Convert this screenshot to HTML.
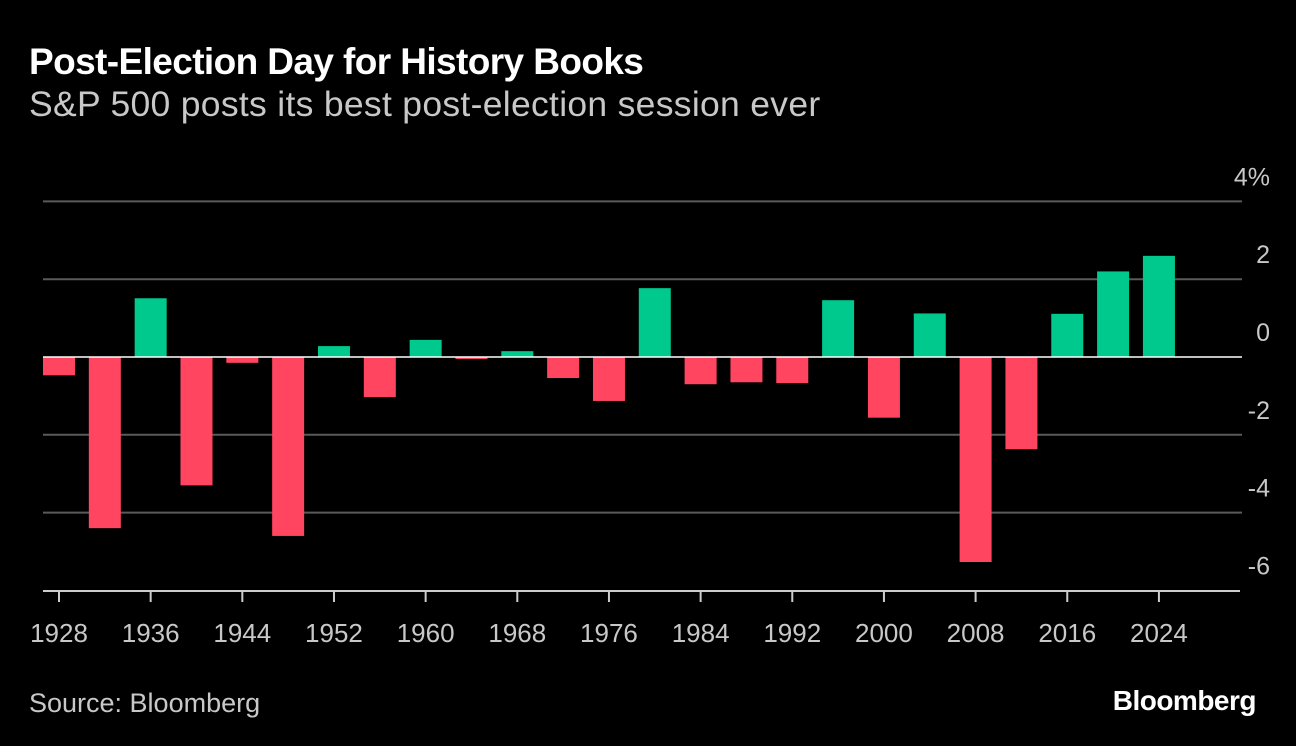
<!DOCTYPE html>
<html><head><meta charset="utf-8"><style>
body{margin:0;background:#000;width:1296px;height:746px;overflow:hidden;font-family:"Liberation Sans",sans-serif;}
#t{position:absolute;left:29px;top:41px;color:#fff;font-size:37px;font-weight:bold;letter-spacing:-0.6px}
#s{position:absolute;left:29px;top:84px;color:#c8c8c8;font-size:35.5px;letter-spacing:0.3px}
#src{position:absolute;left:29px;top:688px;color:#c8c8c8;font-size:27px}
#b{position:absolute;right:40px;top:685px;color:#fff;font-size:28px;font-weight:bold;letter-spacing:-0.5px}
svg{position:absolute;left:0;top:0}
</style></head><body>
<div id="t">Post-Election Day for History Books</div>
<div id="s">S&amp;P 500 posts its best post-election session ever</div>
<svg id="c" width="1296" height="746"></svg>
<div id="src">Source: Bloomberg</div>
<div id="b">Bloomberg</div>
<script>
const years=[1928,1932,1936,1940,1944,1948,1952,1956,1960,1964,1968,1972,1976,1980,1984,1988,1992,1996,2000,2004,2008,2012,2016,2020,2024];
const values=[-0.47,-4.4,1.51,-3.3,-0.15,-4.6,0.28,-1.03,0.44,-0.05,0.15,-0.54,-1.13,1.77,-0.7,-0.65,-0.67,1.46,-1.56,1.12,-5.27,-2.37,1.11,2.2,2.6];
const yTicks=[4,2,0,-2,-4,-6];
const yTickLabels=["4%","2","0","-2","-4","-6"];
const xTicks=[1928,1936,1944,1952,1960,1968,1976,1984,1992,2000,2008,2016,2024];
const svg=document.getElementById('c'),NS='http://www.w3.org/2000/svg';
const y=v=>357-v*38.9;
const x=yr=>59+(yr-1928)/4*45.83;
function mk(t,a,p){const e=document.createElementNS(NS,t);for(const k in a)e.setAttribute(k,a[k]);(p||svg).appendChild(e);return e;}
yTicks.forEach((v,i)=>{
  if(v!==0&&v!==-6){const l=mk('line',{x1:43,x2:1242,y1:y(v),y2:y(v),stroke:'#5a5a5a','stroke-width':2});
  
  }
  const t=mk('text',{x:1270,y:y(v)-16,fill:'#c8c8c8','font-size':25,'text-anchor':'end'});
  
  
  t.textContent=yTickLabels[i];
});
years.forEach((yr,i)=>{
  const v=values[i],top=Math.min(y(v),y(0)),h=Math.abs(y(v)-y(0));
  const r=mk('rect',{x:x(yr)-16,y:top,width:32,height:Math.max(h,1),fill:v>=0?'#00c98d':'#ff4560'});
  
  
});
const z=mk('line',{x1:43,x2:1242,y1:y(0),y2:y(0),stroke:'#fff','stroke-width':1.5});


const ax=mk('line',{x1:43,x2:1240,y1:591,y2:591,stroke:'#ccc','stroke-width':2});


xTicks.forEach(yr=>{
  const tk=mk('line',{x1:x(yr),x2:x(yr),y1:591,y2:602,stroke:'#ccc','stroke-width':2});
  
  
  const t=mk('text',{x:x(yr),y:642,fill:'#c8c8c8','font-size':26,'text-anchor':'middle'});
  
  
  t.textContent=yr;
});
</script>
</body></html>
